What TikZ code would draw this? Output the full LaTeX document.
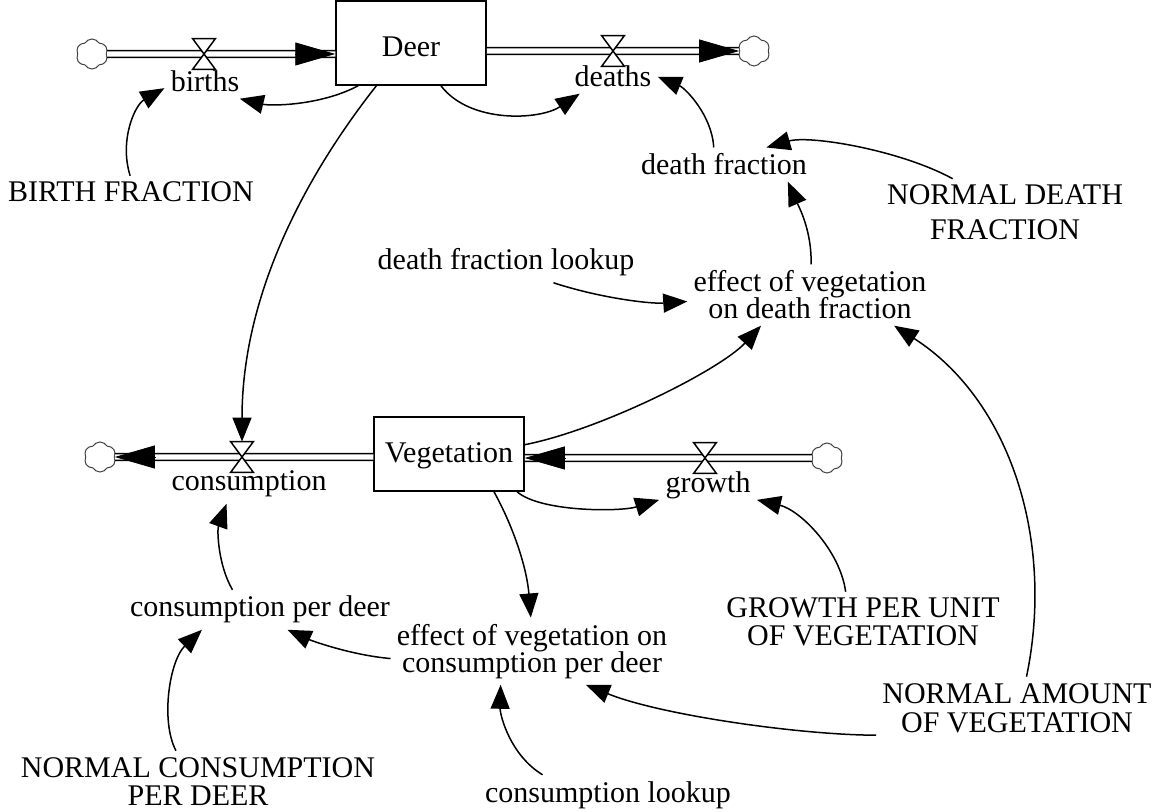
\documentclass[tikz,border=0pt]{standalone}
\usepackage{fontspec}
\setmainfont{Liberation Serif}
\usetikzlibrary{arrows.meta,shapes.symbols}
\lineskiplimit=-20pt

\tikzset{
  stock/.style={draw, line width=0.75pt, minimum width=75pt, inner sep=0pt, anchor=base},
  lbl/.style={align=center, inner sep=3pt, anchor=base},
  pipe/.style={double distance=2.6pt, line width=0.75pt},
  flowtip/.style={-{Triangle[length=20pt,width=11.5pt]}},
  link/.style={line width=0.75pt, -{Triangle[length=12pt,width=9.5pt]}},
  valve/.style={minimum width=11pt, minimum height=15pt, inner sep=0pt},
  sink/.style={cloud, cloud puffs=6, cloud puff arc=120, aspect=1, draw=black!75,
    line width=0.5pt, minimum width=16pt, minimum height=15pt, inner sep=0pt},
}

\begin{document}
\begin{tikzpicture}[x=0.5pt, y=-0.5pt, font=\fontsize{15}{14}\selectfont]
\useasboundingbox (0,0) rectangle (1157,812);
% the stocks
\node[stock, text height=28pt, text depth=14pt] (deer) at (411,57) {Deer};
\node[stock, text height=23pt, text depth=14pt] (veg) at (449,463) {Vegetation};
% sources and sinks
\node[sink] (c1) at (92,54) {};
\node[sink] (c2) at (754,51) {};
\node[sink] (c3) at (100,457) {};
\node[sink] (c4) at (827,458) {};
\coordinate (e1) at (c1 -| deer.west);
\coordinate (s2) at (c2 -| deer.east);
\coordinate (s3) at (c3 -| veg.west);
\coordinate (e4) at (c4 -| veg.east);
% the pipes
\draw[pipe] (c1.east) -- (e1);
\draw[pipe] (s2) -- (c2.west);
\draw[pipe] (s3) -- (c3.east);
\draw[pipe] (c4.west) -- (e4);
% the valves
\node[valve] (v1) at (204,54) {};
\node[valve] (v2) at (613,51) {};
\node[valve] (v3) at (242,457) {};
\node[valve] (v4) at (705,458) {};
\foreach \v in {v1,v2,v3,v4}
  \draw[fill=white, line width=0.75pt] (\v.north west) -- (\v.north east)
    -- (\v.south west) -- (\v.south east) -- cycle;
\draw[flowtip] ([xshift=-20pt]e1) -- (e1);
\draw[flowtip] ([xshift=-20pt]c2.west) -- (c2.west);
\draw[flowtip] ([xshift=20pt]c3.east) -- (c3.east);
\draw[flowtip] ([xshift=20pt]e4) -- (e4);
% the variables
\node[lbl] (births) at (205,92) {births};
\node[lbl] (deaths) at (613,87) {deaths};
\node[lbl] (cons) at (249,491) {consumption};
\node[lbl] (growth) at (708,493) {growth};
\node[lbl] (bf) at (131,202) {BIRTH FRACTION};
\node[lbl] (df) at (724,175) {death fraction};
\node[lbl, font=\fontsize{15}{17.5}\selectfont] (ndf) at (1005,240) {NORMAL DEATH\\FRACTION};
\node[lbl] (dfl) at (506,270) {death fraction lookup};
\node[lbl, font=\fontsize{15}{13.5}\selectfont] (effd) at (810,319) {effect of vegetation\\on death fraction};
\node[lbl] (cpd) at (260,617) {consumption per deer};
\node[lbl, font=\fontsize{15}{13.5}\selectfont] (effc) at (532,672) {effect of vegetation on\\consumption per deer};
\node[lbl, font=\fontsize{15}{13.5}\selectfont] (gpu) at (863,645) {GROWTH PER UNIT\\OF VEGETATION};
\node[lbl, font=\fontsize{15}{14.5}\selectfont] (nav) at (1017,732) {NORMAL AMOUNT\\OF VEGETATION};
\node[lbl] (ncpd) at (198,805) {NORMAL CONSUMPTION\\PER DEER};
\node[lbl] (cl) at (608,802) {consumption lookup};
% the links
\draw[link] (bf.93) .. controls (119,140) and (135,105) .. (births.189);
\draw[link] (deer.219) .. controls (320,106) and (270,106) .. (births.-26);
\draw[link] (deer.-55) .. controls (470,124) and (540,120) .. (deaths.207);
\draw[link] (df.121) .. controls (712,115) and (685,88) .. (deaths.east);
\draw[link] (ndf.147) .. controls (900,150) and (810,135) .. (df.22);
\draw[link] (effd.88) .. controls (812,230) and (798,205) .. (df.-15);
\draw[link] (dfl.-23) .. controls (600,298) and (650,304) .. (effd.183);
\draw[link] (deer.231) .. controls (310,170) and (242,290) .. (v3.north);
\draw[link] (veg.7) .. controls (600,430) and (720,370) .. (effd.212);
\draw[link] (nav.73) .. controls (1055,540) and (1010,400) .. (effd.-20);
\draw[link] (veg.-29) .. controls (540,512) and (620,512) .. (growth.196);
\draw[link] (gpu.120) .. controls (840,550) and (800,510) .. (growth.-16);
\draw[link] (veg.-40) .. controls (515,530) and (527,570) .. (effc.92);
\draw[link] (cpd.144) .. controls (218,565) and (217,530) .. (cons.221);
\draw[link] (effc.183) .. controls (350,655) and (310,640) .. (cpd.-36);
\draw[link] (nav.191) .. controls (800,735) and (660,715) .. (effc.-32);
\draw[link] (cl.163) .. controls (510,755) and (500,715) .. (effc.227);
\draw[link] (ncpd.126) .. controls (160,720) and (170,660) .. (cpd.199);
\end{tikzpicture}
\end{document}
